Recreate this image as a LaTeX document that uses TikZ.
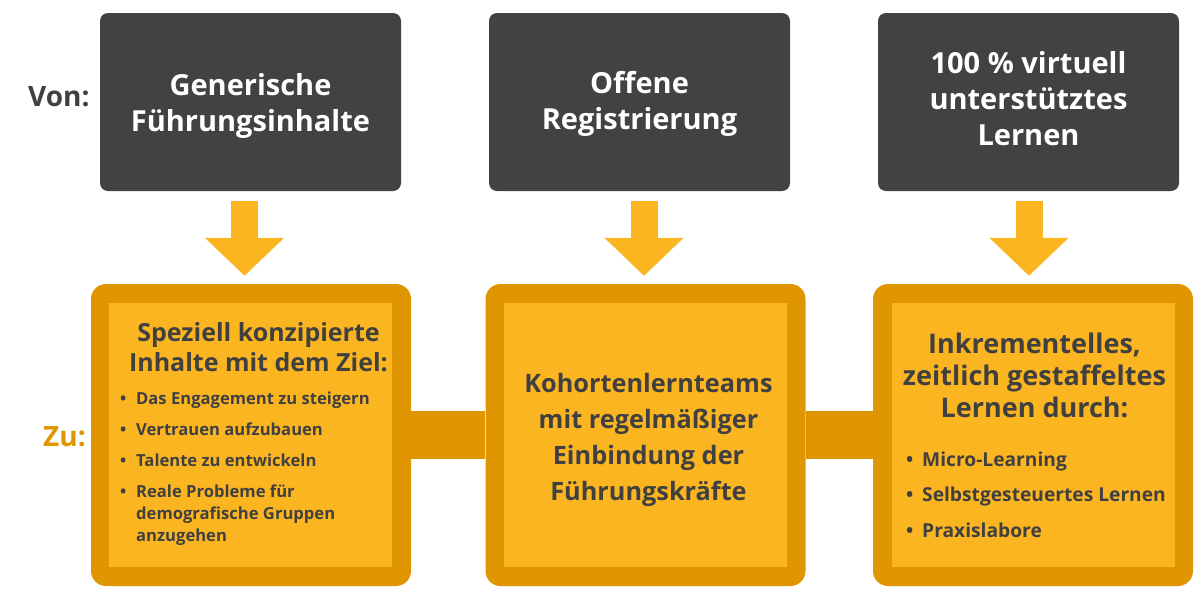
\documentclass[tikz,border=0pt]{standalone}
\usepackage{fontspec}
\setmainfont{Open Sans}
\usetikzlibrary{arrows.meta}
\definecolor{darkbox}{HTML}{414241}
\definecolor{graytext}{HTML}{404040}
\definecolor{orangeD}{HTML}{E09600}
\definecolor{orangeL}{HTML}{FBB521}
\tikzset{
  dbox/.style={fill=darkbox, rounded corners=8pt, minimum width=301pt, minimum height=178pt, inner sep=0pt,
    text=white, align=center, font=\bfseries\fontsize{29}{36}\selectfont},
  obox/.style={fill=orangeD, rounded corners=15pt, minimum width=320pt, minimum height=302pt, inner sep=0pt},
  ibox/.style={fill=orangeL, minimum width=283pt, minimum height=264pt, inner sep=0pt},
  bar/.style={orangeD, line width=48pt},
  blockarrow/.style={orangeL, line width=27pt, -{Triangle[width=77pt,length=38pt]}},
  otext/.style={text=graytext, inner sep=0pt},
  label/.style={inner sep=0pt, anchor=base west, font=\bfseries\fontsize{28}{34}\selectfont}
}
\newcommand{\bul}{\makebox[16pt][l]{\textbullet}}
\newcommand{\ind}{\hspace*{16pt}}
\begin{document}
\begin{tikzpicture}[x=1pt,y=-1pt]
\useasboundingbox (0,0) rectangle (1200,600);
% dark boxes
\node[dbox, text depth=0pt] (d1) at (250.5,102) {Generische\\Führungsinhalte};
\node[dbox, text depth=4pt] (d2) at (639.5,102) {Offene\\Registrierung};
\node[dbox, text depth=8pt] (d3) at (1028.5,102) {100 \% virtuell\\unterstütztes\\Lernen};
% orange boxes
\node[obox] (o1) at (251,435) {};
\node[obox] (o2) at (645.5,435) {};
\node[obox] (o3) at (1033,435) {};
\node[ibox] (i1) at (250.5,435) {};
\node[ibox] (i2) at (645.5,435) {};
\node[ibox] (i3) at (1033.5,435) {};
% bars
\draw[bar] (o1.east) -- (o2.west);
\draw[bar] (o2.east) -- (o3.west);
% arrows
\draw[blockarrow] ([xshift=-6pt,yshift=-10pt]d1.south) -- ([xshift=-6.5pt,yshift=8pt]o1.north);
\draw[blockarrow] ([xshift=4.5pt,yshift=-10pt]d2.south) -- ([xshift=-1.5pt,yshift=8pt]o2.north);
\draw[blockarrow] ([xshift=0.5pt,yshift=-10pt]d3.south) -- ([xshift=-4pt,yshift=8pt]o3.north);
% labels
\node[label, text=graytext] (von) at (28,106) {Von:};
\node[label, text=orangeD] (zu) at (43,446) {Zu:};
% box 1 text
\node[otext, anchor=base, align=center, font=\bfseries\fontsize{25}{30}\selectfont] (h1) at (258.5,371)
  {Speziell konzipierte\\Inhalte mit dem Ziel:};
\node[otext, anchor=base west, align=left, font=\bfseries\fontsize{16.6}{22}\selectfont] (l1) at (120,541)
  {\bul Das Engagement zu steigern\\[9pt]
   \bul Vertrauen aufzubauen\\[9pt]
   \bul Talente zu entwickeln\\[9pt]
   \bul Reale Probleme für\\
   \ind demografische Gruppen\\
   \ind anzugehen};
% box 2 text
\node[otext, anchor=base, align=center, font=\bfseries\fontsize{25.3}{36}\selectfont] (t2) at (648.5,500)
  {Kohortenlernteams\\mit regelmäßiger\\Einbindung der\\Führungskräfte};
% box 3 text
\node[otext, anchor=base, align=center, font=\bfseries\fontsize{27}{32}\selectfont] (h3) at (1034.5,417)
  {Inkrementelles,\\zeitlich gestaffeltes\\Lernen durch:};
\node[otext, anchor=base west, align=left, font=\bfseries\fontsize{19.2}{35.5}\selectfont] (l3) at (906,537)
  {\bul Micro-Learning\\
   \bul Selbstgesteuertes Lernen\\
   \bul Praxislabore};
\end{tikzpicture}
\end{document}
